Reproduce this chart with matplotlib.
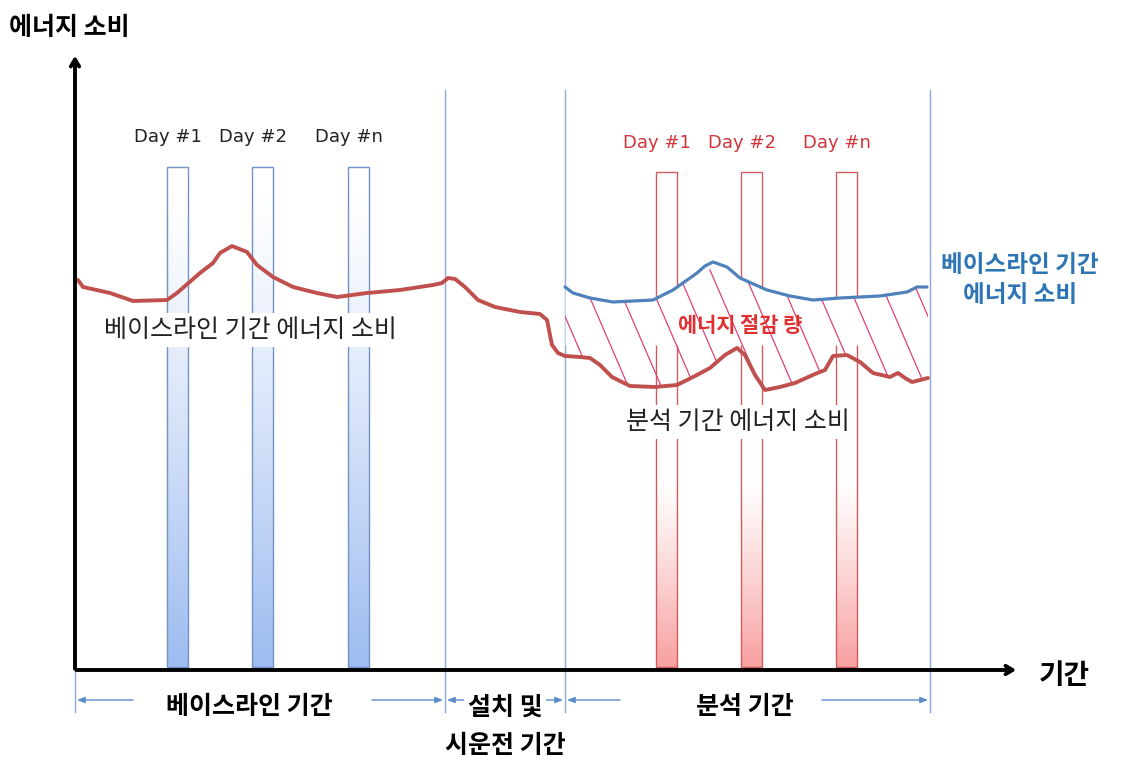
import numpy as np
import matplotlib
matplotlib.use('Agg')
import matplotlib.pyplot as plt
from matplotlib.patches import Rectangle, Polygon

plt.rcParams['font.family'] = ['Noto Sans CJK KR', 'DejaVu Sans']

# time axis origin is the corner of the axes, energy grows upward
base_x = [3, 8, 35, 58, 92, 102, 125, 138, 145, 157, 172, 182, 198, 218, 242, 262, 292, 325,
          358, 367, 373, 380, 390, 403, 420, 445, 465, 472, 477, 483, 490, 505, 515, 525,
          537, 555, 580, 602, 620, 635, 650, 662, 670, 680, 690, 705, 720, 740, 750, 758,
          772, 785, 798, 815, 823, 830, 837, 853]
base_y = [390, 383, 377, 369, 370, 377, 397, 407, 417, 424, 418, 405, 393, 383, 377, 373, 377,
          380, 385, 387, 392, 391, 383, 370, 363, 358, 356, 350, 325, 317, 314, 313, 312, 305,
          293, 284, 283, 285, 294, 302, 315, 322, 315, 295, 280, 283, 287, 296, 300, 314,
          315, 308, 297, 293, 297, 292, 288, 292]
ref_x = [490, 498, 515, 538, 578, 598, 615, 622, 630, 638, 652, 665, 692, 715, 738, 765,
         805, 832, 842, 852]
ref_y = [383, 377, 372, 368, 370, 380, 392, 397, 404, 408, 403, 392, 380, 374, 370, 372,
         374, 378, 383, 383]

base_days = ['Day #1', 'Day #2', 'Day #n']
base_bar_x = [102, 187, 283]
post_days = ['Day #1', 'Day #2', 'Day #n']
post_bar_x = [591, 676, 771]

fig = plt.figure(figsize=(11.39, 7.63), dpi=100)
ax = fig.add_axes([0, 0, 1, 1])
ax.set_xlim(-75, 1064)
ax.set_ylim(-93, 670)
ax.axis('off')

blue_edge = '#7393c4'
red_edge = '#cf5c5c'
red_line = '#c0504d'
blue_line = '#4f81bd'
thin_blue = '#8eaadb'


def gradient_bar(x0, top, col_bottom, edge, fade):
    t = np.linspace(0, 1, 256)[:, None]
    w = np.clip((t - fade) / (1 - fade), 0, 1) ** 1.2
    c = np.array(matplotlib.colors.to_rgb(col_bottom))
    img = (1 - w)[:, :, None] * np.ones(3) + w[:, :, None] * c
    img = np.repeat(img, 2, axis=1)
    ax.imshow(img, extent=[x0, x0 + 21, 3, top], origin='upper', aspect='auto', zorder=1)
    ax.add_patch(Rectangle((x0, 3), 21, top - 3, fill=False, ec=edge, lw=1.0, zorder=1.2))


for bx, lab in zip(base_bar_x, base_days):
    gradient_bar(bx - 10, 503, '#9dbcf0', blue_edge, 0.05)
    ax.text(bx - 9, 533, lab, ha='center', va='center', fontsize=13, color='#222222',
            family=['Liberation Sans Narrow', 'DejaVu Sans'])
for bx, lab in zip(post_bar_x, post_days):
    gradient_bar(bx - 10, 498, '#f8a0a0', red_edge, 0.62)
    ax.text(bx - 9, 527, lab, ha='center', va='center', fontsize=13, color='#d0353a',
            family=['Liberation Sans Narrow', 'DejaVu Sans'])

# phase boundary lines
for vx in [370, 490, 855]:
    ax.plot([vx, vx], [-42, 580], color=thin_blue, lw=1.0, zorder=1.5)
ax.plot([0, 0], [-42, 0], color=thin_blue, lw=1.0, zorder=1.5)

# saving region between reference and actual consumption
grid = np.linspace(490, 853, 400)
top_c = np.interp(grid, ref_x, ref_y)
bot_c = np.interp(grid, base_x, base_y)
ax.fill_between(grid, top_c, np.minimum(325, top_c), color='white', zorder=1.8, lw=0)
region = Polygon(np.column_stack([np.r_[grid, grid[::-1]], np.r_[top_c, bot_c[::-1]]]),
                 closed=True, fc='none', ec='none')
ax.add_patch(region)
for x0 in np.arange(470, 900, 33):
    ln, = ax.plot([x0, x0 + 95], [400, 180], color='#e0407a', lw=0.9, zorder=2)
    ln.set_clip_path(region)

ax.plot(base_x, base_y, color=red_line, lw=2.8, zorder=3, solid_capstyle='round')
ax.plot(ref_x, ref_y, color=blue_line, lw=2.3, zorder=3, solid_capstyle='round')

# axes with arrows
ax.annotate('', xy=(0, 617), xytext=(0, -1.5),
            arrowprops=dict(arrowstyle='->,head_length=0.5,head_width=0.3', lw=2.8, color='black'),
            zorder=4)
ax.annotate('', xy=(944, 0), xytext=(-1.5, 0),
            arrowprops=dict(arrowstyle='->,head_length=0.5,head_width=0.3', lw=2.8, color='black'),
            zorder=4)
ax.text(-66, 642, '에너지 소비', ha='left', va='center', fontsize=18, fontweight='bold')
ax.text(964, -6, '기간', ha='left', va='center', fontsize=20, fontweight='bold')

# curve labels
box = dict(boxstyle='square,pad=0.15', fc='white', ec='none')
ax.text(175, 340, '베이스라인 기간 에너지 소비', ha='center', va='center', fontsize=18,
        color='#222222', bbox=box, zorder=4)
ax.text(663, 248, '분석 기간 에너지 소비', ha='center', va='center', fontsize=18,
        color='#222222', bbox=box, zorder=4)
ax.text(665, 345, '에너지 절감 량', ha='center', va='center', fontsize=15,
        color='#e03030', fontweight='bold', zorder=4)
ax.text(945, 390, '베이스라인 기간\n에너지 소비', ha='center', va='center', fontsize=17,
        color='#2e75b6', fontweight='bold', linespacing=1.3, zorder=4)

# period spans under the time axis
arr = dict(arrowstyle='-|>,head_length=0.45,head_width=0.18', lw=1.0, color='#5b8cc8',
           shrinkA=0, shrinkB=0)
yy = -30
for a, b in [(58, 2), (297, 368), (430, 372), (432, 488), (545, 492), (747, 853)]:
    ax.annotate('', xy=(b, yy), xytext=(a, yy), arrowprops=arr)
ax.text(174, yy - 7, '베이스라인 기간', ha='center', va='center', fontsize=18, fontweight='bold')
ax.text(430, yy - 8, '설치 및', ha='center', va='center', fontsize=18, fontweight='bold',
        bbox=box)
ax.text(430, yy - 46, '시운전 기간', ha='center', va='center', fontsize=18, fontweight='bold')
ax.text(670, yy - 7, '분석 기간', ha='center', va='center', fontsize=18, fontweight='bold')

fig.savefig('out.png', dpi=100)
